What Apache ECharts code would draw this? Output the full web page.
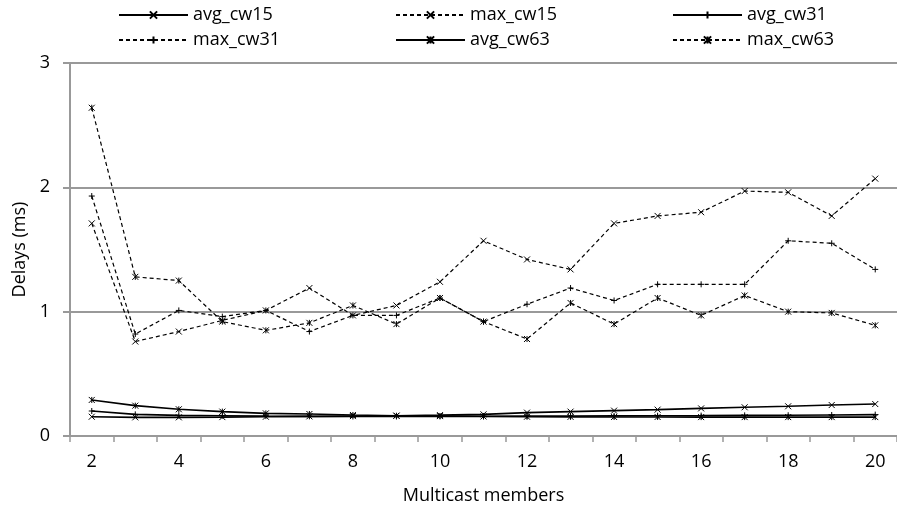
<!DOCTYPE html>
<html>
<head>
<meta charset="utf-8">
<script src="https://cdn.jsdelivr.net/npm/echarts@6/dist/echarts.min.js"></script>
<style>
  html, body { margin: 0; padding: 0; background: #fff; }
  #chart { width: 897px; height: 513px; }
</style>
</head>
<body>
<div id="chart"></div>
<script>
const categories = ['2','3','4','5','6','7','8','9','10','11','12','13','14','15','16','17','18','19','20'];
const yTicks = [0, 1, 2, 3];

const avg_cw15 = [0.155, 0.150, 0.150, 0.152, 0.155, 0.158, 0.160, 0.163, 0.168, 0.174, 0.188, 0.196, 0.204, 0.212, 0.222, 0.231, 0.239, 0.249, 0.257];
const max_cw15 = [1.71, 0.76, 0.84, 0.93, 1.01, 1.19, 0.97, 1.05, 1.24, 1.57, 1.42, 1.34, 1.71, 1.77, 1.80, 1.97, 1.96, 1.77, 2.07];
const avg_cw31 = [0.201, 0.174, 0.166, 0.163, 0.160, 0.158, 0.157, 0.157, 0.158, 0.159, 0.160, 0.161, 0.162, 0.163, 0.164, 0.166, 0.167, 0.169, 0.172];
const max_cw31 = [1.93, 0.82, 1.01, 0.96, 1.01, 0.84, 0.97, 0.97, 1.11, 0.92, 1.06, 1.19, 1.09, 1.22, 1.22, 1.22, 1.57, 1.55, 1.34];
const avg_cw63 = [0.290, 0.244, 0.215, 0.196, 0.182, 0.177, 0.169, 0.163, 0.160, 0.157, 0.155, 0.154, 0.153, 0.153, 0.152, 0.152, 0.152, 0.152, 0.152];
const max_cw63 = [2.64, 1.28, 1.25, 0.92, 0.85, 0.91, 1.05, 0.90, 1.11, 0.92, 0.78, 1.07, 0.90, 1.11, 0.97, 1.13, 1.00, 0.99, 0.89];

const FONT = '"Open Sans", sans-serif';
const SYM_X = 'path://M0,0L10,10M10,0L0,10';
const SYM_PLUS = 'path://M5,0L5,10M0,5L10,5';
const SYM_STAR = 'path://M0,0L10,10M10,0L0,10M5,0L5,10';

function mk(name, data, symbol, dashed) {
  return {
    name: name,
    type: 'line',
    data: data,
    symbol: symbol,
    symbolSize: 6,
    showAllSymbol: true,
    lineStyle: dashed
      ? { color: '#000', width: 1.2, type: [4, 3] }
      : { color: '#000', width: 1.6, type: 'solid' },
    itemStyle: { color: '#000', borderColor: '#000', borderWidth: 1 },
    emphasis: { disabled: true },
    z: dashed ? 3 : 2
  };
}

const series = [
  mk('avg_cw15', avg_cw15, SYM_X, false),
  mk('max_cw15', max_cw15, SYM_X, true),
  mk('avg_cw31', avg_cw31, SYM_PLUS, false),
  mk('max_cw31', max_cw31, SYM_PLUS, true),
  mk('avg_cw63', avg_cw63, SYM_STAR, false),
  mk('max_cw63', max_cw63, SYM_STAR, true)
];

const legendPos = [
  [118, 6], [395, 6], [672, 6],
  [118, 31], [395, 31], [672, 31]
];
const legends = series.map((s, i) => ({
  data: [s.name],
  left: legendPos[i][0],
  top: legendPos[i][1],
  padding: 0,
  itemWidth: 69,
  itemHeight: 9,
  itemGap: 0,
  selectedMode: false,
  textStyle: { fontFamily: FONT, fontSize: 18, color: '#000' }
}));

const chart = echarts.init(document.getElementById('chart'), null, { renderer: 'canvas' });
chart.setOption({
  animation: false,
  backgroundColor: '#fff',
  legend: legends,
  grid: { left: 70, top: 63, width: 834, height: 373, containLabel: false },
  xAxis: {
    type: 'category',
    data: categories,
    boundaryGap: true,
    name: 'Multicast members',
    nameLocation: 'middle',
    nameGap: 51,
    nameTextStyle: { fontFamily: FONT, fontSize: 18, color: '#000' },
    axisLine: { lineStyle: { color: '#999', width: 2 } },
    axisTick: { show: true, interval: 0, length: 6, lineStyle: { color: '#999', width: 1.5 } },
    axisLabel: { interval: 1, margin: 17, fontFamily: FONT, fontSize: 18, color: '#000' },
    splitLine: { show: false }
  },
  yAxis: {
    type: 'value',
    min: yTicks[0],
    max: yTicks[yTicks.length - 1],
    interval: 1,
    name: 'Delays (ms)',
    nameLocation: 'middle',
    nameGap: 39,
    nameTextStyle: { fontFamily: FONT, fontSize: 18, color: '#000' },
    axisLine: { show: true, lineStyle: { color: '#999', width: 2 } },
    axisTick: { show: true, length: 7, lineStyle: { color: '#999', width: 2 } },
    axisLabel: { margin: 20, fontFamily: FONT, fontSize: 18, color: '#000' },
    splitLine: { show: true, lineStyle: { color: '#999', width: 2 } }
  },
  series: series
});
</script>
</body>
</html>
